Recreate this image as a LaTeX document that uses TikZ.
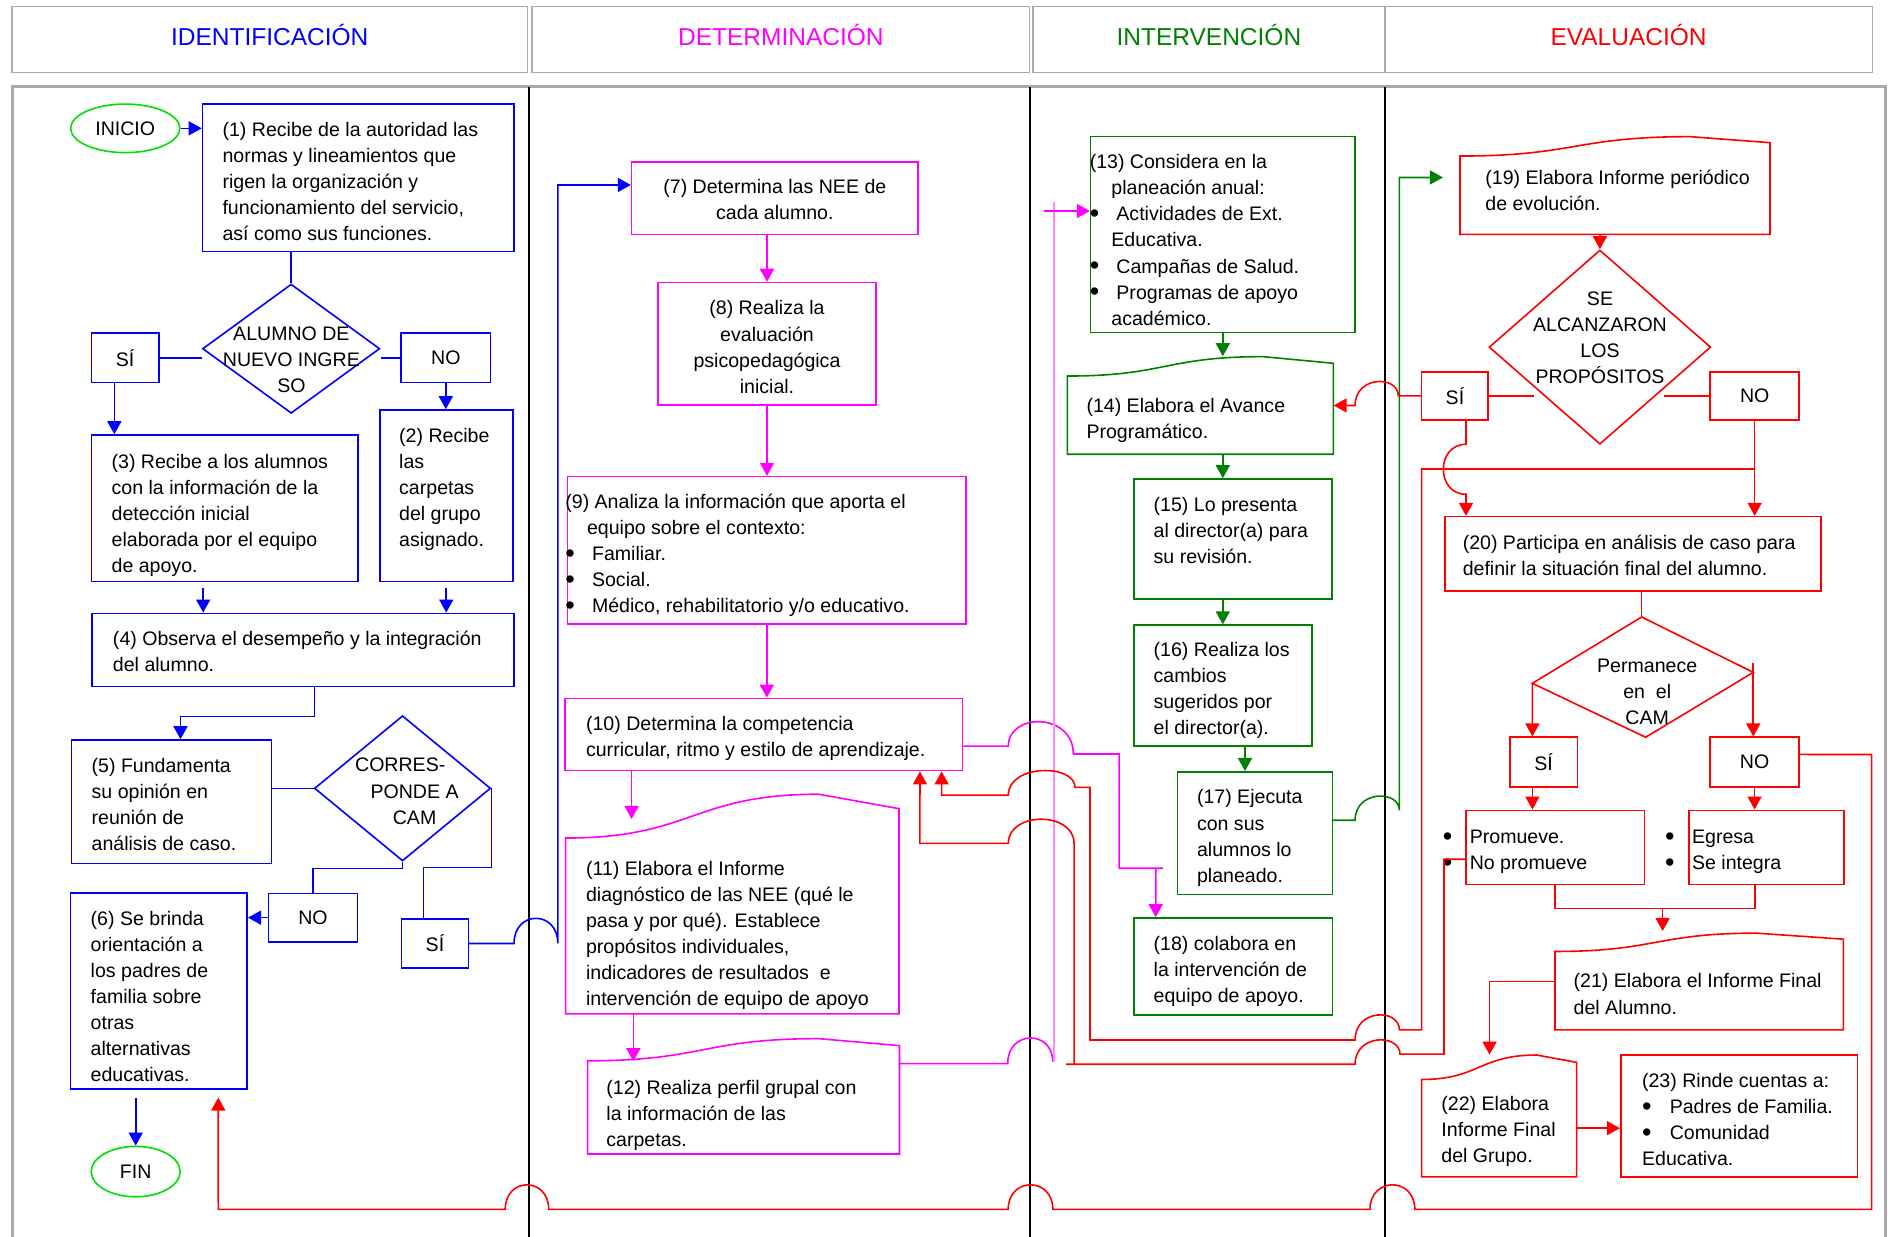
\documentclass[tikz,border=0pt]{standalone}
\usepackage{fontspec}
\setmainfont{Liberation Sans}
\usetikzlibrary{arrows.meta,shapes.geometric,fit}

\definecolor{cblue}{RGB}{0,0,255}
\definecolor{cmag}{RGB}{255,0,255}
\definecolor{cgreen}{RGB}{0,128,0}
\definecolor{cred}{RGB}{255,0,0}
\definecolor{clime}{RGB}{0,225,0}
\definecolor{cpink}{RGB}{255,140,255}
\definecolor{cframe}{RGB}{170,170,170}

% rectangle box spanning two corners
\newcommand\mkbox[6]{\node[box, draw=#6, fit={(#2,#3) (#4,#5)}] (#1) {};}
% document box: name, left, top-left y, crest x, crest y, top-right y, right, bottom, colour
\newcommand\mkdoc[9]{%
  \draw[line width=0.8pt, draw=#9] (#2,#8) -- (#2,#3)
    .. controls ({(#2+#4)/2},#3) and ({(#2+#4)/2},#5) .. (#4,#5)
    -- (#7,#6) -- (#7,#8) -- cycle;
  \node[inner sep=0pt, fit={(#2,#5) (#7,#8)}] (#1) {};}
% text block placed by the middle of its first line
\newcommand\boxtext[5]{\node[txt,#4] (#1) at (#2,{#3-9.7}) {\strut #5};}
\newcommand\bul[1]{\makebox[#1][l]{\raisebox{-0.7pt}{\fontsize{13.5}{13}\selectfont\textbullet}}}

\begin{document}
\begin{tikzpicture}[x=0.6pt,y=-0.6pt,
  box/.style={line width=0.8pt, inner sep=0pt},
  txt/.style={inner sep=0pt, align=left, anchor=north west, font=\fontsize{9.75}{13}\selectfont},
  ctxt/.style={align=center, anchor=north},
  lab/.style={inner sep=0pt, font=\fontsize{9.75}{13}\selectfont},
  head/.style={inner sep=0pt, anchor=base, font=\fontsize{12.2}{14}\selectfont},
  term/.style={ellipse, draw=clime, line width=0.8pt, inner sep=0pt, font=\fontsize{9.75}{13}\selectfont},
  arr/.style={-{Triangle[length=6.5pt,width=7pt]}},
  bl/.style={line width=0.8pt, draw=cblue},
  mg/.style={line width=0.8pt, draw=cmag},
  gr/.style={line width=0.8pt, draw=cgreen},
  rd/.style={line width=0.8pt, draw=cred},
  pk/.style={line width=0.6pt, draw=cpink}]

\useasboundingbox (0,0) rectangle (1568,1027);

% ---------- lane headers ----------
\mkbox{hb1}{10}{5.5}{438}{60.3}{cframe}
\mkbox{hb2}{442}{5.5}{855}{60.3}{cframe}
\mkbox{hb3}{858}{5.5}{1150}{60.3}{cframe}
\mkbox{hb4}{1150}{5.5}{1555}{60.3}{cframe}
\node[head, text=cblue]  (h1) at (224,37.4)    {IDENTIFICACIÓN};
\node[head, text=cmag]   (h2) at (648.5,37.4)  {DETERMINACIÓN};
\node[head, text=cgreen] (h3) at (1004,37.4)   {INTERVENCIÓN};
\node[head, text=cred]   (h4) at (1352.5,37.4) {EVALUACIÓN};

% ---------- frame and lane separators ----------
\draw[cframe, line width=1.5pt] (10,1027) -- (10,72) -- (1566,72) -- (1566,1027);
\draw[black, line width=0.8pt] (439.4,72) -- (439.4,1027);
\draw[black, line width=0.8pt] (855.6,72) -- (855.6,1027);
\draw[black, line width=0.8pt] (1150.2,72) -- (1150.2,1027);

% ---------- IDENTIFICACIÓN: shapes ----------
\node[term, minimum width=54.4pt, minimum height=24.2pt] (ini) at (104,106.6) {INICIO};
\mkbox{b1}{168.2}{86.6}{427}{209}{cblue}
\boxtext{t1}{184.5}{107.5}{}{(1) Recibe de la autoridad las\\normas y lineamientos que\\rigen la organización y\\funcionamiento del servicio,\\así como sus funciones.}
\node[diamond, box, draw=cblue, minimum width=88.3pt, minimum height=64.4pt] (d1) at (241.8,289.6) {};
\boxtext{td1}{242}{276.8}{ctxt}{ALUMNO DE\\NUEVO INGRE\\SO}
\mkbox{si1}{76.1}{276.8}{131.8}{317.8}{cblue}
\node[lab] (tsi1) at (si1.center) {SÍ};
\mkbox{no1}{333}{276.8}{407.5}{317.8}{cblue}
\node[lab] (tno1) at (no1.center) {NO};
\mkbox{b3}{76.1}{361.3}{297.4}{483.1}{cblue}
\boxtext{t3}{92.4}{383.1}{}{(3) Recibe a los alumnos\\con la información de la\\detección inicial\\elaborada por el equipo\\de apoyo.}
\mkbox{b2}{315.4}{340.5}{425.8}{483.1}{cblue}
\boxtext{t2}{331.2}{361.3}{}{(2) Recibe\\las\\carpetas\\del grupo\\asignado.}
\mkbox{b4}{76.4}{509.4}{427}{570.3}{cblue}
\boxtext{t4}{93.5}{530.2}{}{(4) Observa el desempeño y la integración\\del alumno.}
\mkbox{b5}{59.5}{614.6}{225.6}{717}{cblue}
\boxtext{t5}{75.8}{635.9}{}{(5) Fundamenta\\su opinión en\\reunión de\\análisis de caso.}
\node[diamond, box, draw=cblue, minimum width=87.8pt, minimum height=72.4pt] (d2) at (334.3,654.7) {};
\boxtext{td2}{294.6}{635.3}{}{CORRES-\\\hspace*{7.7pt}PONDE A\\\hspace*{18.8pt}CAM}
\mkbox{no2}{223.1}{741.9}{296.8}{782.3}{cblue}
\node[lab] (tno2) at (no2.center) {NO};
\mkbox{si2}{333.5}{763.2}{389}{803.9}{cblue}
\node[lab] (tsi2) at (si2.center) {SÍ};
\mkbox{b6}{58.6}{741.4}{205.3}{904.2}{cblue}
\boxtext{t6}{75}{762.7}{}{(6) Se brinda\\orientación a\\los padres de\\familia sobre\\otras\\alternativas\\educativas.}
\node[term, minimum width=44.3pt, minimum height=25.1pt] (fin) at (112.7,973) {FIN};

% ---------- DETERMINACIÓN: shapes ----------
\mkbox{b7}{524.6}{134.3}{762.4}{194.6}{cmag}
\boxtext{t7}{643.5}{154.6}{ctxt}{(7) Determina las NEE de\\cada alumno.}
\mkbox{b8}{546.5}{234.7}{727.5}{336.4}{cmag}
\boxtext{t8}{637}{255.8}{ctxt}{(8) Realiza la\\evaluación\\psicopedagógica\\inicial.}
\mkbox{b9}{471.4}{395.9}{802.3}{518.2}{cmag}
\boxtext{t9}{469.2}{416.6}{}{(9) Analiza la información que aporta el\\\hspace*{10.8pt}equipo sobre el contexto:\\\bul{13.3pt}Familiar.\\\bul{13.3pt}Social.\\\bul{13.3pt}Médico, rehabilitatorio y/o educativo.}
\mkbox{b10}{469.2}{580}{799.5}{640}{cmag}
\boxtext{t10}{486.4}{600.5}{}{(10) Determina la competencia\\curricular, ritmo y estilo de aprendizaje.}
\mkdoc{b11}{469.8}{696}{680}{659.6}{671.6}{746.6}{842}{cmag}
\boxtext{t11}{486.4}{721.3}{}{(11) Elabora el Informe\\diagnóstico de las NEE (qué le\\pasa y por qué). Establece\\propósitos individuales,\\indicadores de resultados~ e\\intervención de equipo de apoyo}
\mkdoc{b12}{488}{881}{680}{862.6}{868.4}{747}{958.4}{cmag}
\boxtext{t12}{503.3}{903}{}{(12) Realiza perfil grupal con\\la información de las\\carpetas.}

% ---------- INTERVENCIÓN: shapes ----------
\mkbox{b13}{905.8}{113.5}{1125.3}{276.3}{cgreen}
\boxtext{t13}{904.7}{134.3}{}{(13) Considera en la\\\hspace*{10.8pt}planeación anual:\\\bul{13.3pt}Actividades de Ext.\\\hspace*{10.8pt}Educativa.\\\bul{13.3pt}Campañas de Salud.\\\bul{13.3pt}Programas de apoyo\\\hspace*{10.8pt}académico.}
\mkdoc{b14}{886.4}{312.3}{1049}{296.2}{301.7}{1107.3}{377.3}{cgreen}
\boxtext{t14}{902}{336.4}{}{(14) Elabora el Avance\\Programático.}
\mkbox{b15}{941.8}{397.8}{1106}{497.5}{cgreen}
\boxtext{t15}{957.8}{418.8}{}{(15) Lo presenta\\al director(a) para\\su revisión.}
\mkbox{b16}{941.8}{519.2}{1089.4}{619.7}{cgreen}
\boxtext{t16}{957.8}{539.5}{}{(16) Realiza los\\cambios\\sugeridos por\\el director(a).}
\mkbox{b17}{977.8}{641}{1106.5}{742.9}{cgreen}
\boxtext{t17}{993.8}{661.9}{}{(17) Ejecuta\\con sus\\alumnos lo\\planeado.}
\mkbox{b18}{941.8}{762.4}{1106.5}{843.1}{cgreen}
\boxtext{t18}{957.8}{783.4}{}{(18) colabora en\\la intervención de\\equipo de apoyo.}

% ---------- EVALUACIÓN: shapes ----------
\mkdoc{b19}{1212.5}{129.6}{1403.6}{113.5}{118.5}{1470}{194.6}{cred}
\boxtext{t19}{1233.3}{147.3}{}{(19) Elabora Informe periódico\\de evolución.}
\node[diamond, box, draw=cred, minimum width=110.5pt, minimum height=96.8pt] (d3) at (1328.7,288.3) {};
\boxtext{td3}{1328.8}{247.8}{ctxt}{SE\\ALCANZARON\\LOS\\PROPÓSITOS}
\mkbox{si3}{1180.7}{308.7}{1236}{348.8}{cred}
\node[lab] (tsi3) at (si3.center) {SÍ};
\mkbox{no3}{1420.2}{308.7}{1494.3}{348.8}{cred}
\node[lab] (tno3) at (no3.center) {NO};
\mkbox{b20}{1200.1}{429.1}{1512.3}{490.8}{cred}
\boxtext{t20}{1214.5}{450.7}{}{(20) Participa en análisis de caso para\\definir la situación final del alumno.}
\coordinate (d4t) at (1363.4,512.4);
\coordinate (d4r) at (1456.1,558.4);
\coordinate (d4b) at (1366.7,612.3);
\coordinate (d4l) at (1272.6,567.5);
\draw[rd] (d4t) -- (d4r) -- (d4b) -- (d4l) -- cycle;
\boxtext{td4}{1368}{552.3}{ctxt}{Permanece\\en~~el\\CAM}
\mkbox{si4}{1254}{612.3}{1310}{653.5}{cred}
\node[lab] (tsi4) at (si4.center) {SÍ};
\mkbox{no4}{1420.2}{612.3}{1494.1}{653.5}{cred}
\node[lab] (tno4) at (no4.center) {NO};
\mkbox{bp}{1217.5}{673}{1365.6}{734.5}{cred}
\boxtext{tbp}{1198}{695}{}{\bul{13.4pt}Promueve.\\\bul{13.4pt}No promueve}
\mkbox{be}{1402.7}{673}{1531.5}{734.5}{cred}
\boxtext{tbe}{1382.6}{695}{}{\bul{13.4pt}Egresa\\\bul{13.4pt}Se integra}
\mkdoc{b21}{1291.4}{790.2}{1458.9}{775}{780}{1530.9}{855.3}{cred}
\boxtext{t21}{1306.6}{814.7}{}{(21) Elabora el Informe Final\\del Alumno.}
\mkdoc{b22}{1180.7}{896.5}{1276.2}{876.2}{882.3}{1309.4}{977.4}{cred}
\boxtext{t22}{1196.8}{916.7}{}{(22) Elabora\\Informe Final\\del Grupo.}
\mkbox{b23}{1346}{876.2}{1542.5}{977.4}{cred}
\boxtext{t23}{1363.4}{897.4}{}{(23) Rinde cuentas a:\\\bul{13.8pt}Padres de Familia.\\\bul{13.8pt}Comunidad\\Educativa.}

% ---------- blue connectors ----------
\draw[bl, arr] (ini.east) -- (ini.east -| b1.west);
\draw[bl] (b1.south -| d1.north) -- (d1.north);
\draw[bl] (si1.east) -- (si1.east -| d1.west);
\draw[bl] (d1.east |- no1.west) -- (no1.west);
\draw[bl, arr] ([xshift=-5.4pt]si1.south) -- ([xshift=-5.4pt]si1.south |- b3.north);
\draw[bl, arr] (no1.south) -- (no1.south |- b2.north);
\draw[bl, arr, shorten <=2.5pt] ([xshift=-10.8pt]b3.south) -- ([xshift=-10.8pt]b3.south |- b4.north);
\draw[bl, arr, shorten <=2.5pt] (b2.south) -- (b2.south |- b4.north);
\draw[bl, arr] ([xshift=5.6pt]b4.south) -- ++(0,24.1) -| ([xshift=4.4pt]b5.north);
\draw[bl] (d2.west -| b5.east) -- (d2.west);
\draw[bl] (d2.south) -- ++(0,5.6) -| (no2.north);
\draw[bl] (d2.east) -- ++(0,65.9) -| ([xshift=-5.7pt]si2.north);
\draw[bl, arr] (no2.west) -- (no2.west -| b6.east);
\draw[bl, arr, shorten <=4pt] (fin.north |- b6.south) -- (fin.north);
\draw[bl, arr] (si2.east) -- (426.9,783.55) .. controls (426.9,755.7) and (463.3,755.7) .. (463.3,783.55)
  |- ([yshift=6.5pt]b7.west);

% ---------- magenta connectors ----------
\draw[mg, arr] (b8.north |- b7.south) -- (b8.north);
\draw[mg, arr] (b8.south) -- (b8.south |- b9.north);
\draw[mg, arr] (b9.south) -- (b9.south |- b10.north);
\draw[mg, arr] ([xshift=-65.9pt]b10.south) -- ++(0,39.5);
\draw[mg, arr] ([xshift=-49.3pt]b11.south) -- ++(0,39);
\draw[mg] ([yshift=-5.8pt]b10.east) -- (837.4,619.7) .. controls (837.4,591.6) and (891.4,591.6) .. (891.4,626.2)
  -- (929.4,626.2) -- (929.4,721.1) -- (966,721.1);
\coordinate (m18) at (959.8,721.1);
\draw[mg, arr] (m18) -- ([xshift=-38.6pt]b18.north);
\draw[mg] ([yshift=16.3pt]b12.east) -- (836.9,883.3) .. controls (836.9,855.2) and (874.3,855.2) .. (874.3,881.7);
\coordinate (pkb) at (875.3,881.7);
\coordinate (pkt) at (875.3,167.5);
\draw[pk] (pkb) -- (pkt);
\coordinate (m13) at (867,175.2);
\draw[mg, arr] (m13) -- ([yshift=11.8pt]b13.west);

% ---------- green connectors ----------
\draw[gr, arr] (b13.south) -- (b13.south |- b14.north);
\draw[gr, arr] (b14.south -| b13.south) -- (b15.north -| b13.south);
\draw[gr, arr] (b15.south -| b13.south) -- (b16.north -| b13.south);
\draw[gr, arr] ([xshift=-4.9pt]b17.north |- b16.south) -- ([xshift=-4.9pt]b17.north);
\draw[gr, arr, shorten >=8.3pt] ([yshift=6.45pt]b17.east) -- (1125.4,681.2)
  .. controls (1125.4,656) and (1162.2,656) .. (1162.2,673) |- ([yshift=4pt]b19.west);

% ---------- red connectors ----------
\draw[rd, arr] (d3.north |- b19.south) -- (d3.north);
\draw[rd] (si3.east) -- ++(36.9,0);
\draw[rd] (no3.west) -- ++(-37.4,0);
\draw[rd, arr] (si3.west) -- (1161.3,328.75) .. controls (1161.3,311.7) and (1125.4,311.7) .. (1125.4,336.75) -- (b14.east);
\draw[rd, arr] ([xshift=5.5pt]si3.south) -- (1217.5,369) .. controls (1192.4,369) and (1192.4,410.5) .. (1217.5,410.5)
  -- ([xshift=5.5pt]si3.south |- b20.north);
\draw[rd, arr] (no3.south) -- (no3.south |- b20.north);
\coordinate (jB) at (1457.25,389.5);
\draw[rd, arr] (jB) -- (1180.7,389.5) -- (1180.7,855.3) -- (1162.2,855.3)
  .. controls (1162.2,837.5) and (1125.4,837.5) .. (1125.4,863.7) -- (905.2,863.7) -- (905.2,653.9) -- (892.8,653.9)
  .. controls (892.8,634.3) and (837.4,634.3) .. (837.4,660.4) -- (782,660.4) -- ([xshift=88.6pt]b10.south);
\draw[rd, arr] ([yshift=-5.9pt]bp.west) -- (1199.2,713.6) -- (1199.2,875.5) -- (1162.7,875.5)
  .. controls (1162.7,858.4) and (1125.4,858.4) .. (1125.4,883.9) -- (885.3,883.9) -- (892,883.9) -- (892,700.4)
  .. controls (892,673.7) and (837.4,673.7) .. (837.4,700.4) -- (764,700.4) -- ([xshift=77.8pt]b10.south);
\draw[rd] (b20.south -| d4t) -- (d4t);
\draw[rd, arr] (d4l) -- ([xshift=-5.6pt]si4.north);
\draw[rd, arr] ([yshift=4.7pt]d4r) -- (d4r |- no4.north);
\draw[rd, arr] ([xshift=-5.6pt]si4.south) -- ([xshift=-5.6pt]si4.south |- bp.north);
\draw[rd, arr] (no4.south) -- (no4.south |- be.north);
\draw[rd] (bp.south) -- ++(0,19.5) -| ([xshift=-5.7pt]be.south);
\coordinate (mrg) at (1380.8,754);
\draw[rd, arr] (mrg) -- ++(0,19.2);
\draw[rd, arr] (b21.west) -| ([xshift=-4.8pt]b22.north);
\draw[rd, arr] ([yshift=-6.1pt]b22.east) -- ([yshift=-6.1pt]b22.east -| b23.west);
\draw[rd, arr, shorten >=4pt] ([yshift=3.8pt]no4.east) -- (1554.4,626.6) -- (1554.4,1004.4) -- (1175,1004.4)
  .. controls (1175,977.2) and (1137.8,977.2) .. (1137.8,1004.4) -- (874.4,1004.4)
  .. controls (874.4,977.2) and (837.3,977.2) .. (837.3,1004.4) -- (455.7,1004.4)
  .. controls (455.7,977.2) and (419.6,977.2) .. (419.6,1004.4) -- (181.3,1004.4) -- ([xshift=29.6pt]b6.south);
\end{tikzpicture}
\end{document}
